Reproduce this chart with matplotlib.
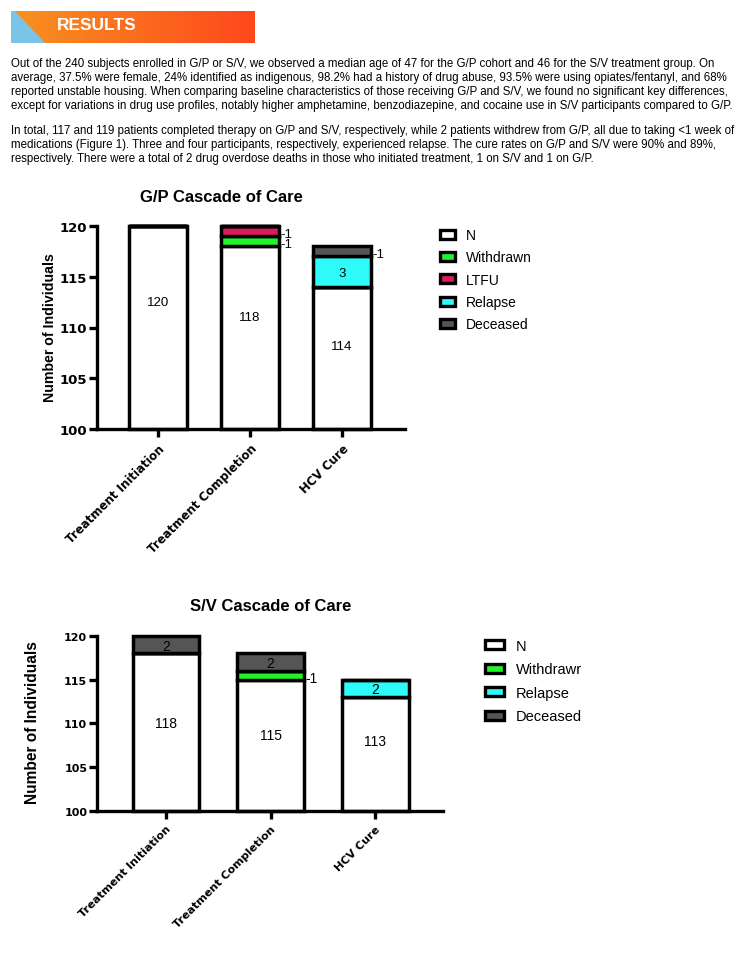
import numpy as np
import matplotlib
matplotlib.use("Agg")
import matplotlib.pyplot as plt
from matplotlib.patches import Patch, Polygon

# ---- data ----
stages = ["Treatment Initiation", "Treatment Completion", "HCV Cure"]

gp_n = [120, 118, 114]
gp_withdrawn = [0, 1, 0]
gp_ltfu = [0, 1, 0]
gp_relapse = [0, 0, 3]
gp_deceased = [0, 0, 1]

sv_n = [118, 115, 113]
sv_withdrawn = [0, 1, 0]
sv_relapse = [0, 0, 2]
sv_deceased = [2, 2, 0]

paragraph1 = [
    "Out of the 240 subjects enrolled in G/P or S/V, we observed a median age of 47 for the G/P cohort and 46 for the S/V treatment group. On",
    "average, 37.5% were female, 24% identified as indigenous, 98.2% had a history of drug abuse, 93.5% were using opiates/fentanyl, and 68%",
    "reported unstable housing. When comparing baseline characteristics of those receiving G/P and S/V, we found no significant key differences,",
    "except for variations in drug use profiles, notably higher amphetamine, benzodiazepine, and cocaine use in S/V participants compared to G/P.",
]
paragraph2 = [
    "In total, 117 and 119 patients completed therapy on G/P and S/V, respectively, while 2 patients withdrew from G/P, all due to taking <1 week of",
    "medications (Figure 1). Three and four participants, respectively, experienced relapse. The cure rates on G/P and S/V were 90% and 89%,",
    "respectively. There were a total of 2 drug overdose deaths in those who initiated treatment, 1 on S/V and 1 on G/P.",
]

COLORS = {"N": "white", "Withdrawn": "#22F22A", "LTFU": "#DC1C5A",
          "Relapse": "#2EFAFA", "Deceased": "#555555"}
Y_MIN = 100

W, H = 746, 954
fig = plt.figure(figsize=(W / 100, H / 100), dpi=100)

# background axes in pixel coordinates for the header & text
bg = fig.add_axes([0, 0, 1, 1])
bg.set_xlim(0, W)
bg.set_ylim(H, 0)
bg.axis("off")

# banner gradient
grad = np.linspace(0, 1, 256)[None, :]
c0 = np.array([247, 146, 32]) / 255
c1 = np.array([255, 72, 28]) / 255
img = c0[None, None, :] * (1 - grad[..., None]) + c1[None, None, :] * grad[..., None]
bg.imshow(img, extent=(11, 255, 44, 12), aspect="auto", zorder=1)
bg.add_patch(Polygon([(11, 12), (15, 12), (45, 44), (11, 44)], closed=True,
                     facecolor="#7CC3E8", edgecolor="none", zorder=2))
bg.text(57, 26, "RESULTS", color="white", fontsize=12.5, fontweight="bold",
        family="Liberation Sans", va="center", ha="left", zorder=3)

for i, line in enumerate(paragraph1):
    bg.text(11, 64 + i * 13.9, line, fontsize=8.3, family="Liberation Sans",
            va="center", ha="left")
for i, line in enumerate(paragraph2):
    bg.text(11, 131 + i * 13.9, line, fontsize=8.3, family="Liberation Sans",
            va="center", ha="left")


def px_axes(left, top, right, bottom):
    return fig.add_axes([left / W, 1 - bottom / H, (right - left) / W, (bottom - top) / H])


def cascade(ax, layers, xlim, tick_fs, xtick_fs, label_fs, n_label_y, side_labels):
    x = np.arange(len(stages))
    bottom = np.full(len(stages), float(Y_MIN))
    for name, vals in layers:
        vals = np.array(vals, dtype=float)
        heights = vals - Y_MIN if name == "N" else vals
        ax.bar(x, heights, bottom=bottom, width=0.64, color=COLORS[name],
               edgecolor="black", linewidth=2.5, clip_on=False, zorder=3)
        for i, v in enumerate(vals):
            if v == 0:
                continue
            mid = bottom[i] + heights[i] / 2
            if name == "N":
                ax.text(x[i], n_label_y[i], f"{int(v)}", ha="center", va="center",
                        fontsize=label_fs, family="Liberation Sans", zorder=4)
            elif (name, i) in side_labels:
                ax.text(x[i] + 0.33, mid - 0.25, f"-{int(v)}", ha="left", va="center",
                        fontsize=label_fs, family="Liberation Sans", zorder=4)
            else:
                ax.text(x[i], mid - 0.1, f"{int(v)}", ha="center", va="center",
                        fontsize=label_fs, family="Liberation Sans", zorder=4)
        bottom += heights
    ax.set_ylim(Y_MIN, 120)
    ax.set_xlim(*xlim)
    ax.set_yticks([100, 105, 110, 115, 120])
    ax.set_xticks(x)
    ax.set_xticklabels(stages, rotation=45, ha="right", rotation_mode="anchor",
                       fontsize=xtick_fs, fontweight="bold", family="DejaVu Sans")
    for lab in ax.get_yticklabels():
        lab.set_fontweight("bold")
        lab.set_fontsize(tick_fs)
        lab.set_family("DejaVu Sans")
    for s in ["top", "right"]:
        ax.spines[s].set_visible(False)
    for s in ["left", "bottom"]:
        ax.spines[s].set_linewidth(2.4)
        ax.spines[s].set_zorder(5)
    ax.tick_params(axis="both", width=2.4, length=6)
    ax.tick_params(axis="y", pad=1)
    ax.tick_params(axis="x", pad=3)


# ---- G/P chart ----
ax1 = px_axes(97, 227, 405, 430)
cascade(ax1,
        [("N", gp_n), ("Withdrawn", gp_withdrawn), ("LTFU", gp_ltfu),
         ("Relapse", gp_relapse), ("Deceased", gp_deceased)],
        (-0.663, 2.685), 9.5, 8.5, 9.5, [112.5, 111.0, 108.2],
        {("Withdrawn", 1), ("LTFU", 1), ("Deceased", 2)})
bg.text(221, 197, "G/P Cascade of Care", fontsize=12, fontweight="bold",
        family="Liberation Sans", ha="center", va="center")
bg.text(50, 328, "Number of Individuals", fontsize=10.2, fontweight="bold",
        family="Liberation Sans", ha="center", va="center", rotation=90)
gp_names = ["N", "Withdrawn", "LTFU", "Relapse", "Deceased"]
ax1.legend([Patch(facecolor=COLORS[n], edgecolor="black", linewidth=2.4) for n in gp_names],
           gp_names, loc="upper left", bbox_to_anchor=(440, 229), bbox_transform=bg.transData,
           frameon=False, borderpad=0, borderaxespad=0,
           handlelength=1.1, handleheight=0.6, handletextpad=0.75, labelspacing=0.6,
           prop={"family": "Liberation Sans", "size": 10})

# ---- S/V chart ----
ax2 = px_axes(97, 637, 443, 812)
cascade(ax2,
        [("N", sv_n), ("Withdrawn", sv_withdrawn), ("Relapse", sv_relapse),
         ("Deceased", sv_deceased)],
        (-0.66, 2.65), 8, 8, 10, [110.0, 108.7, 108.0],
        {("Withdrawn", 1)})
bg.text(271, 607, "S/V Cascade of Care", fontsize=12, fontweight="bold",
        family="Liberation Sans", ha="center", va="center")
bg.text(33, 723, "Number of Individuals", fontsize=11.2, fontweight="bold",
        family="Liberation Sans", ha="center", va="center", rotation=90)
sv_names = ["N", "Withdrawn", "Relapse", "Deceased"]
sv_labels = ["N", "Withdrawr", "Relapse", "Deceased"]
ax2.legend([Patch(facecolor=COLORS[n], edgecolor="black", linewidth=2.4) for n in sv_names],
           sv_labels, loc="upper left", bbox_to_anchor=(485, 640), bbox_transform=bg.transData,
           frameon=False, borderpad=0, borderaxespad=0,
           handlelength=1.3, handleheight=0.6, handletextpad=0.8, labelspacing=0.65,
           prop={"family": "Liberation Sans", "size": 10.5})

fig.savefig("out.png", dpi=100)
